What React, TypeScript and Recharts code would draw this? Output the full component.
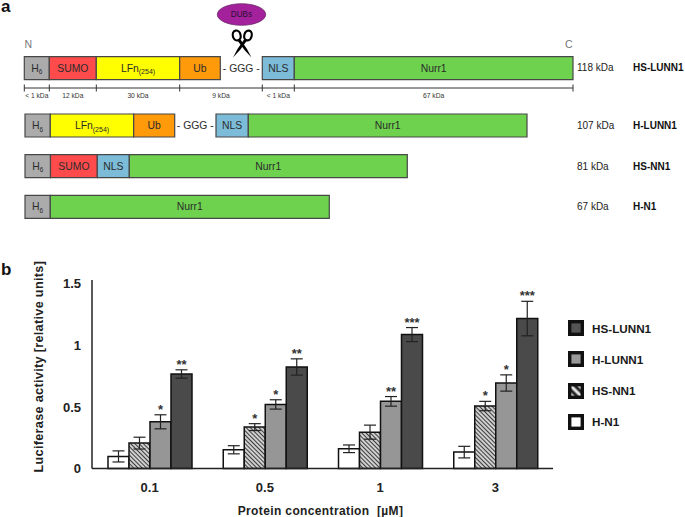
import { BarChart, Bar, XAxis, YAxis, ErrorBar, LabelList, Legend } from 'recharts';

// panel a: construct domains, lengths
const constructs = ['HS-LUNN1', 'H-LUNN1', 'HS-NN1', 'H-N1'];
const masses = ['118 kDa', '107 kDa', '81 kDa', '67 kDa'];
const h6Len = [25, 25.3, 25.5, 25.3];
const sumoLen = [47, 0, 46.8, 0];
const lfnLen = [83.4, 83.4, 0, 0];
const ubLen = [40.6, 41, 0, 0];
const gggLen = [42, 41.3, 0, 0];
const nlsLen = [32, 32.3, 32, 0];
const nurrLen = [278.7, 278.7, 278, 279];

const rulerTicks = [0, 25, 72, 155.4, 238, 270, 548.7];
const rulerLabels = ['< 1 kDa', '12 kDa', '30 kDa', '9 kDa', '< 1 kDa', '67 kDa'];

const domains = [
    { key: 'H', main: 'H', sub: '6', color: '#ababab', values: h6Len },
    { key: 'SUMO', main: 'SUMO', color: '#ff4b4b', values: sumoLen },
    { key: 'LFn', main: 'LFn', sub: '(254)', color: '#ffff00', values: lfnLen },
    { key: 'Ub', main: 'Ub', color: '#ff9a0a', values: ubLen },
    { key: 'GGG', main: '- GGG -', color: 'none', values: gggLen },
    { key: 'NLS', main: 'NLS', color: '#7cbcd8', values: nlsLen },
    { key: 'Nurr1', main: 'Nurr1', color: '#6fd24f', values: nurrLen },
];

const schematicRows = constructs.map((name, i) => {
    const row: Record<string, string | number> = { name };
    domains.forEach(d => { row[d.key] = d.values[i]; });
    return row;
});

// panel b: luciferase assay
const concentrations = ['0.1', '0.5', '1', '3'];
const hn1 = [0.098, 0.152, 0.16, 0.133];
const hn1Err = [0.045, 0.033, 0.031, 0.047];
const hsnn1 = [0.206, 0.336, 0.295, 0.507];
const hsnn1Err = [0.048, 0.028, 0.057, 0.038];
const hlunn1 = [0.379, 0.52, 0.545, 0.694];
const hlunn1Err = [0.057, 0.038, 0.039, 0.066];
const hslunn1 = [0.767, 0.824, 1.087, 1.217];
const hslunn1Err = [0.034, 0.066, 0.057, 0.14];
const hsnn1Stars = ['', '*', '', '*'];
const hlunn1Stars = ['*', '*', '**', '*'];
const hslunn1Stars = ['**', '**', '***', '***'];

const assayData = concentrations.map((c, i) => ({
    c,
    hn1: hn1[i], hn1Err: hn1Err[i],
    hsnn1: hsnn1[i], hsnn1Err: hsnn1Err[i],
    hlunn1: hlunn1[i], hlunn1Err: hlunn1Err[i],
    hslunn1: hslunn1[i], hslunn1Err: hslunn1Err[i],
}));

const FONT = '"Liberation Sans", Arial, sans-serif';
const Y_MAX = 1.53;
const PLOT_H = 188.5;

const segmentLabel = (main: string, sub?: string) => (props: any) => {
    const { x, y, width, height, value } = props;
    if (!value) return null;
    return (
        <text x={x + width / 2} y={y + height / 2 + 3.6} textAnchor="middle" fontSize={10.4} fontFamily={FONT} fill="#2b2b2b">
            {main}
            {sub && <tspan dy={2.5} fontSize={sub.length > 1 ? 7 : 6.5}>{sub}</tspan>}
        </text>
    );
};

const RowTick = (props: any) => {
    const { x, y, payload } = props;
    const i = constructs.indexOf(payload.value);
    return (
        <g fontFamily={FONT} fontSize={10} fill="#222">
            <text x={x + 4} y={y + 3.5}>{masses[i]}</text>
            <text x={x + 60} y={y + 3.5} fontWeight="bold" fill="#111">{payload.value}</text>
        </g>
    );
};

const RulerTick = (props: any) => {
    const { x, y, index } = props;
    const next = rulerTicks[index + 1];
    return (
        <g>
            <line x1={x} x2={x} y1={y - 3.5} y2={y + 3.5} stroke="#333" strokeWidth={1} />
            {next !== undefined && (
                <text
                    x={x + (next - rulerTicks[index]) / 2}
                    y={y + 9.5}
                    textAnchor="middle"
                    fontSize={6.7}
                    fontFamily={FONT}
                    fill="#333"
                >
                    {rulerLabels[index]}
                </text>
            )}
        </g>
    );
};

const starLabel = (stars: string[], errs: number[]) => (props: any) => {
    const { x, y, width, index } = props;
    if (!stars[index]) return null;
    const errPx = (errs[index] / Y_MAX) * PLOT_H;
    return (
        <text x={x + width / 2} y={y - errPx - 1} textAnchor="middle" fontSize={13} fontWeight="bold" fontFamily={FONT} fill="#333">
            {stars[index]}
        </text>
    );
};

const YTitle = () => (
    <text
        transform="translate(42.5, 106.7) rotate(-90)"
        textAnchor="middle"
        fontSize={12.7}
        fontWeight="bold"
        fontFamily={FONT}
        fill="#222"
        letterSpacing={0.3}
    >
        Luciferase activity [relative units]
    </text>
);

const legendFills: Record<string, string> = {
    'HS-LUNN1': '#555555',
    'H-LUNN1': '#999999',
    'HS-NN1': 'url(#legendHatch)',
    'H-N1': '#ffffff',
};

const AssayLegend = ({ payload }: any) => (
    <div style={{ display: 'flex', flexDirection: 'column', gap: 15.3 }}>
        {[...(payload || [])].reverse().map((entry: any) => (
            <div key={entry.value} style={{ display: 'flex', alignItems: 'center', height: 16, fontFamily: FONT, fontSize: 11.7, fontWeight: 'bold', color: '#1a1a1a' }}>
                <svg width={16} height={16} style={{ marginRight: 8 }}>
                    <rect x={1.7} y={1.7} width={12.6} height={12.6} fill={legendFills[entry.value]} stroke="#111" strokeWidth={3.4} />
                </svg>
                {entry.value}
            </div>
        ))}
    </div>
);

function Schematic({ rows, top, height, marginTop, marginBottom, left, ruler }: any) {
    const plotW = 685 - left - 112;
    return (
        <div style={{ position: 'absolute', left: 0, top }}>
            <BarChart
                width={685}
                height={height}
                data={rows}
                layout="vertical"
                barSize={23}
                margin={{ top: marginTop, right: 0, bottom: marginBottom, left }}
            >
                <XAxis
                    type="number"
                    domain={[0, plotW]}
                    hide={!ruler}
                    ticks={rulerTicks}
                    interval={0}
                    height={ruler ? 20 : 0}
                    tick={<RulerTick />}
                    tickLine={false}
                    tickSize={0}
                    tickMargin={0}
                    axisLine={{ stroke: '#333', strokeWidth: 1 }}
                />
                <YAxis
                    type="category"
                    dataKey="name"
                    orientation="right"
                    width={112}
                    tick={<RowTick />}
                    tickLine={false}
                    tickSize={0}
                    tickMargin={0}
                    axisLine={false}
                    interval={0}
                />
                {domains.map(d => (
                    <Bar
                        key={d.key}
                        dataKey={d.key}
                        stackId="construct"
                        fill={d.color}
                        stroke={d.color === 'none' ? 'none' : '#474747'}
                        strokeWidth={1.2}
                        isAnimationActive={false}
                    >
                        <LabelList dataKey={d.key} content={segmentLabel(d.main, d.sub)} />
                    </Bar>
                ))}
            </BarChart>
        </div>
    );
}

export default function App() {
    return (
        <div style={{ position: 'absolute', left: 0, top: 0, width: 685, height: 517, background: '#fff', overflow: 'hidden' }}>
            <Schematic rows={schematicRows.slice(0, 1)} top={0} height={108} marginTop={47.6} marginBottom={0} left={24.3} ruler />
            <Schematic rows={schematicRows.slice(1)} top={100} height={130} marginTop={5} marginBottom={3} left={25} />

            <div style={{ position: 'absolute', left: 0, top: 260 }}>
                <BarChart
                    width={685}
                    height={257}
                    data={assayData}
                    barSize={21}
                    barGap={0}
                    margin={{ top: 20, right: 132, bottom: 0, left: 0 }}
                >
                    <defs>
                        <pattern id="hatch" width={3} height={3} patternUnits="userSpaceOnUse" patternTransform="rotate(-45)">
                            <rect width={3} height={3} fill="#ffffff" />
                            <line x1={1.5} x2={1.5} y1={0} y2={3} stroke="#3d3d3d" strokeWidth={1.5} />
                        </pattern>
                        <pattern id="legendHatch" width={6} height={6} patternUnits="userSpaceOnUse" patternTransform="rotate(-45)">
                            <rect width={6} height={6} fill="#e8e8e8" />
                            <line x1={3} x2={3} y1={0} y2={6} stroke="#222" strokeWidth={3} />
                        </pattern>
                    </defs>
                    <XAxis
                        dataKey="c"
                        height={48.5}
                        tickLine={false}
                        tickMargin={8}
                        tick={{ fontSize: 13, fontWeight: 'bold', fontFamily: FONT, fill: '#222' }}
                        axisLine={{ stroke: '#222', strokeWidth: 1.5 }}
                        label={{
                            value: 'Protein concentration \u00a0[µM]',
                            position: 'insideBottom',
                            offset: 2,
                            dx: -2,
                            style: { fontSize: 12, fontWeight: 'bold', fontFamily: FONT, fill: '#222', letterSpacing: 0.37 },
                        }}
                    />
                    <YAxis
                        domain={[0, Y_MAX]}
                        ticks={[0, 0.5, 1, 1.5]}
                        width={92}
                        tickLine={false}
                        tickSize={0}
                        tickMargin={11}
                        tick={{ fontSize: 13, fontWeight: 'bold', fontFamily: FONT, fill: '#222' }}
                        axisLine={{ stroke: '#222', strokeWidth: 1.5 }}
                        label={<YTitle />}
                    />
                    <Legend
                        layout="vertical"
                        align="center"
                        verticalAlign="middle"
                        itemSorter={null}
                        content={<AssayLegend />}
                        wrapperStyle={{ position: 'absolute', left: 568, top: 60, width: 110 }}
                    />
                    <Bar dataKey="hn1" name="H-N1" fill="#ffffff" stroke="#111" strokeWidth={1.5} isAnimationActive={false}>
                        <ErrorBar dataKey="hn1Err" width={6} stroke="#222" strokeWidth={1.2} />
                    </Bar>
                    <Bar dataKey="hsnn1" name="HS-NN1" fill="url(#hatch)" stroke="#111" strokeWidth={1.5} isAnimationActive={false}>
                        <ErrorBar dataKey="hsnn1Err" width={6} stroke="#222" strokeWidth={1.2} />
                        <LabelList dataKey="hsnn1" content={starLabel(hsnn1Stars, hsnn1Err)} />
                    </Bar>
                    <Bar dataKey="hlunn1" name="H-LUNN1" fill="#969696" stroke="#111" strokeWidth={1.5} isAnimationActive={false}>
                        <ErrorBar dataKey="hlunn1Err" width={6} stroke="#222" strokeWidth={1.2} />
                        <LabelList dataKey="hlunn1" content={starLabel(hlunn1Stars, hlunn1Err)} />
                    </Bar>
                    <Bar dataKey="hslunn1" name="HS-LUNN1" fill="#4a4a4a" stroke="#111" strokeWidth={1.5} isAnimationActive={false}>
                        <ErrorBar dataKey="hslunn1Err" width={6} stroke="#222" strokeWidth={1.2} />
                        <LabelList dataKey="hslunn1" content={starLabel(hslunn1Stars, hslunn1Err)} />
                    </Bar>
                </BarChart>
            </div>

            {/* panel letters, termini, DUBs and scissors are annotation, not data */}
            <svg width={685} height={517} style={{ position: 'absolute', left: 0, top: 0, pointerEvents: 'none' }} fontFamily={FONT}>
                <text x={1} y={12} fontSize={17} fontWeight="bold" fill="#111">a</text>
                <text x={1} y={275} fontSize={17} fontWeight="bold" fill="#111">b</text>
                <text x={24.5} y={47.5} fontSize={10.5} fill="#777">N</text>
                <text x={565} y={47.5} fontSize={10.5} fill="#777">C</text>
                <ellipse cx={241.5} cy={14.5} rx={24.2} ry={10.8} fill="#a3219b" stroke="#6d2b6a" strokeWidth={0.8} />
                <text x={241.5} y={17.3} fontSize={8.2} textAnchor="middle" fill="#2a1030">DUBs</text>
                <g fill="none" stroke="#000" strokeWidth={2.2}>
                    <ellipse cx={236.7} cy={35.5} rx={3.9} ry={5} transform="rotate(-15 236.7 35.5)" />
                    <ellipse cx={248} cy={35.5} rx={3.7} ry={5} transform="rotate(15 248 35.5)" />
                </g>
                <path d="M237.5 40.5 L240.5 39.5 L247 49 L251.5 57.5 L244.5 50 Z" fill="#000" />
                <path d="M247 40.5 L244 39.5 L237.5 49 L233 57.5 L240 50 Z" fill="#000" />
            </svg>
        </div>
    );
}
